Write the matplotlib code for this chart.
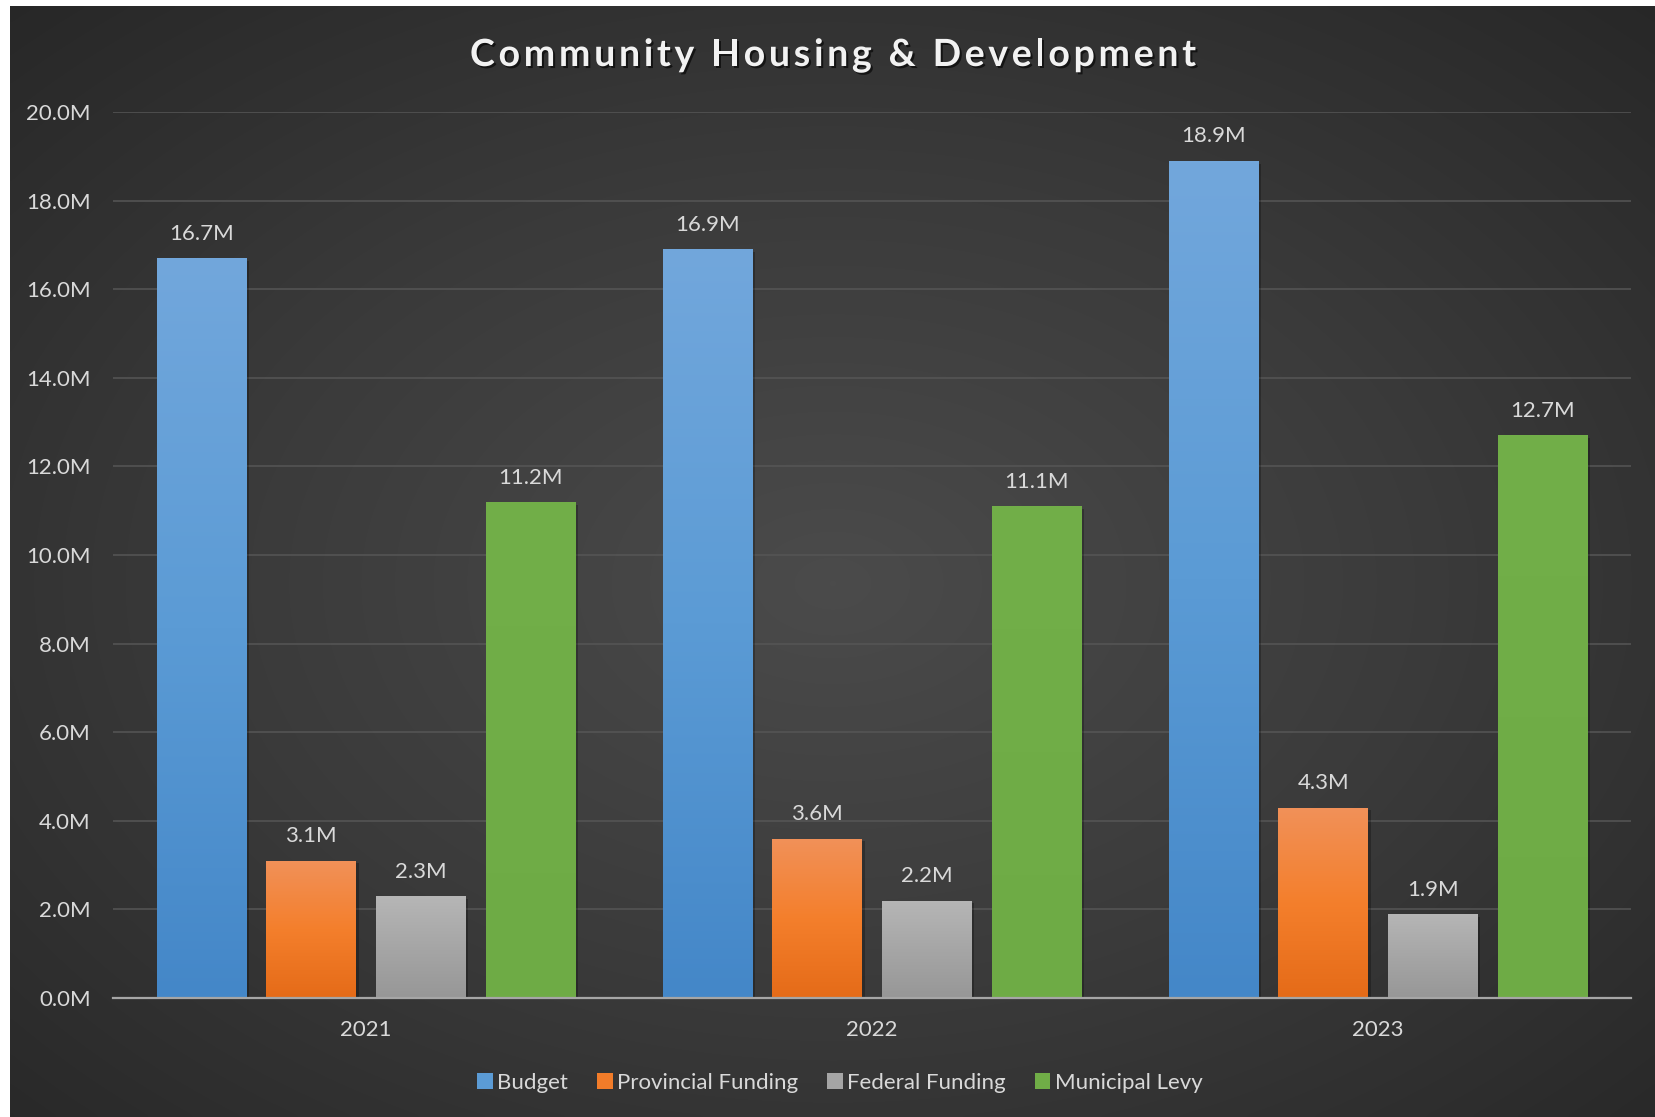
import numpy as np
import matplotlib
matplotlib.use('Agg')
import matplotlib.pyplot as plt
import matplotlib.patheffects as pe
from matplotlib.colors import LinearSegmentedColormap

plt.rcParams['font.family'] = ['Lato', 'DejaVu Sans']

# 数据（单位：百万）
years = ['2021', '2022', '2023']
budget = [16.7, 16.9, 18.9]
provincial = [3.1, 3.6, 4.3]
federal = [2.3, 2.2, 1.9]
municipal = [11.2, 11.1, 12.7]
series_names = ['Budget', 'Provincial Funding', 'Federal Funding', 'Municipal Levy']
yticks = [0, 2, 4, 6, 8, 10, 12, 14, 16, 18, 20]
title = 'Community Housing & Development'

# 每个系列：中间色 + 上下渐变色
styles = [
    ('#5b9bd5', ['#4487c8', '#5b9bd5', '#72a7dc']),
    ('#f27c29', ['#e56b18', '#f47f2c', '#f19159']),
    ('#a5a5a5', ['#979797', '#a6a6a6', '#b6b6b6']),
    ('#70ad47', ['#6eab45', '#70ad47', '#72af49']),
]

W, H = 1656, 1117
fig = plt.figure(figsize=(W / 100, H / 100), dpi=100, facecolor='white')

# 背景：径向渐变
bg = fig.add_axes([10 / W, 0, 1 - 10 / W, 1 - 6 / H], zorder=-5)
yy, xx = np.mgrid[0:1:300j, 0:1:450j]
r = np.sqrt(((xx - 0.5) / 0.75) ** 2 + ((yy - 0.52) / 0.75) ** 2)
bg_cmap = LinearSegmentedColormap.from_list('bg', ['#4b4b4b', '#3a3a3a', '#262626'])
bg.imshow(np.clip(r, 0, 1), cmap=bg_cmap, vmin=0, vmax=1, aspect='auto',
          extent=[0, 1, 0, 1], interpolation='bicubic')
bg.axis('off')

ax = fig.add_axes([113 / W, 1 - 998 / H, (1631 - 113) / W, (998 - 112) / H])
ax.set_facecolor('none')

x = np.arange(len(years))
width = 0.177
step = 0.217
all_series = [budget, provincial, federal, municipal]

for i, (vals, name, (base, grad)) in enumerate(zip(all_series, series_names, styles)):
    offs = (i - 1.5) * step
    bars = ax.bar(x + offs, vals, width, color=base, label=name, zorder=3)
    cmap = LinearSegmentedColormap.from_list(name, grad)
    for rect, v in zip(bars, vals):
        rect.set_path_effects([pe.SimplePatchShadow(offset=(2, -2), shadow_rgbFace='black', alpha=0.25), pe.Normal()])
        x0 = rect.get_x()
        im = ax.imshow(np.linspace(0, 1, 256).reshape(-1, 1), cmap=cmap, aspect='auto',
                       origin='lower', extent=[x0, x0 + rect.get_width(), 0, rect.get_height()],
                       zorder=3.5)
        im.set_clip_path(rect)
        ax.annotate(f'{v:.1f}M', (rect.get_x() + rect.get_width() / 2, v),
                    xytext=(0, 17.5), textcoords='offset points', ha='center', va='center',
                    fontsize=16, color='#d9d9d9')

ax.set_xlim(-0.5, 2.5)
ax.set_ylim(0, 20)
ax.set_xticks(x)
ax.set_xticklabels(years)
ax.set_yticks(yticks)
ax.set_yticklabels([f'{v:.1f}M' for v in yticks])
ax.tick_params(axis='both', length=0, labelsize=16, labelcolor='#d9d9d9')
ax.tick_params(axis='y', pad=16)
ax.tick_params(axis='x', pad=16)
ax.grid(axis='y', color='#565656', lw=1.1, zorder=0)
for s in ['top', 'right', 'left']:
    ax.spines[s].set_visible(False)
ax.spines['bottom'].set_color('#a6a6a6')
ax.spines['bottom'].set_linewidth(1.6)
ax.spines['bottom'].set_zorder(5)

# 标题：逐字排版，加字距
renderer = fig.canvas.get_renderer()
tkw = dict(fontsize=27, fontweight='bold', color='#f2f2f2', va='center', ha='left',
           path_effects=[pe.SimplePatchShadow(offset=(1.5, -1.5), shadow_rgbFace='black', alpha=0.6), pe.Normal()])
spacing = 3.7
widths = []
for ch in title:
    t = fig.text(0, 0, ch if ch != ' ' else 'n', **tkw)
    w = t.get_window_extent(renderer).width
    if ch == ' ':
        w *= 0.45
    widths.append(w)
    t.remove()
total = sum(widths) + spacing * (len(title) - 1)
cx = 833 - total / 2
for ch, w in zip(title, widths):
    if ch != ' ':
        fig.text(cx / W, 1 - 55 / H, ch, **tkw)
    cx += w + spacing

leg = fig.legend(loc='center', bbox_to_anchor=(840 / W, 1 - 1083 / H), ncol=4, frameon=False,
                 handlelength=0.7, handleheight=0.7, handletextpad=0.2, columnspacing=1.3,
                 fontsize=16)
for t in leg.get_texts():
    t.set_color('#d9d9d9')
for h in leg.legend_handles:
    h.set_path_effects([])

plt.savefig('out.png', dpi=100, facecolor=fig.get_facecolor())
